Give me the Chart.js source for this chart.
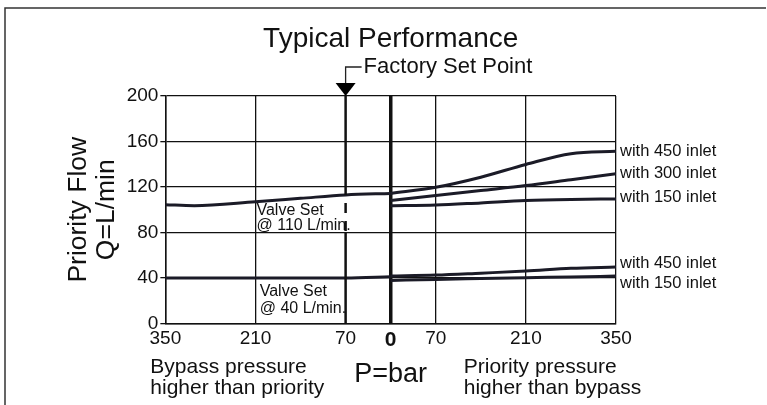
<!DOCTYPE html>
<html>
<head>
<meta charset="utf-8">
<script src="https://cdn.jsdelivr.net/npm/chart.js@4.4.1/dist/chart.umd.min.js"></script>
<style>
  html, body { margin: 0; padding: 0; background: #fff; }
  #wrap { width: 767px; height: 405px; }
</style>
</head>
<body>
<div id="wrap"><canvas id="perfChart"></canvas></div>
<script>
// pressure (bar): left side = bypass higher, right side = priority higher
const leftPressure = [-350, -305, -210, -140, -70, 0];
const rightPressure = [0, 70, 140, 210, 280, 350];
const lowLeftPressure = [-350, -210, -70, 0];

// priority flow (L/min)
const valveSet110 = [104.4, 103.5, 107, 110, 113, 114.3];
const inlet450High = [114.3, 119.7, 128.6, 139.8, 149.3, 151.3];
const inlet300High = [108, 112.4, 116.8, 121.2, 126.4, 131.6];
const inlet150High = [103.5, 104.1, 106, 108, 109, 109.5];
const valveSet40 = [40, 40, 40, 41];
const inlet450Low = [41.6, 42.5, 44.2, 46, 48.4, 49.6];
const inlet150Low = [37.8, 38.7, 39.4, 40.1, 40.9, 41.6];

// factory set point marker: solid above, dashed between, solid below
const factoryX = -70;
const factoryTop = [200, 113];
const factoryDashed = [113, 80];
const factoryBottom = [80, 0];

// ticks
const xTickValues = [-350, -210, -70, 0, 70, 210, 350];
const xTickLabels = ['350', '210', '70', '0', '70', '210', '350'];
const yTickValues = [0, 40, 80, 120, 160, 200];

// curve labels on the right
const inletLabels = ['with 450 inlet', 'with 300 inlet', 'with 150 inlet', 'with 450 inlet', 'with 150 inlet'];
const inletLabelY = [151, 132, 110.6, 52.5, 35];

const FONT = 'Liberation Sans';
const INK = '#1b1b27';

function pts(xs, ys) {
  return xs.map((x, i) => ({ x: x, y: ys[i] }));
}

function curve(xs, ys) {
  return {
    data: pts(xs, ys),
    borderColor: INK,
    borderWidth: 3,
    pointRadius: 0,
    cubicInterpolationMode: 'monotone',
    fill: false
  };
}

function factoryPart(ys, dash) {
  return {
    data: ys.map(y => ({ x: factoryX, y: y })),
    borderColor: '#111',
    borderWidth: 2.5,
    pointRadius: 0,
    borderDash: dash,
    borderDashOffset: dash.length ? 10 : 0
  };
}

// texts and marker drawn around the plot
const decorPlugin = {
  id: 'decor',
  beforeDraw(chart) {
    const c = chart.ctx;
    c.save();
    c.fillStyle = '#fff';
    c.fillRect(0, 0, chart.width, chart.height);
    c.strokeStyle = '#333';
    c.lineWidth = 1.5;
    c.beginPath();
    c.moveTo(5, chart.height);
    c.lineTo(5, 8);
    c.lineTo(766, 8);
    c.stroke();
    c.restore();
  },
  afterDatasetsDraw(chart) {
    const c = chart.ctx;
    const xs = chart.scales.x, ys = chart.scales.y;
    const area = chart.chartArea;
    c.save();
    c.fillStyle = '#111';
    c.textBaseline = 'middle';

    // title
    c.textAlign = 'center';
    c.font = '28px "' + FONT + '"';
    c.fillText('Typical Performance', (area.left + area.right) / 2, 39);

    // curve labels
    c.textAlign = 'left';
    c.font = '16.5px "' + FONT + '"';
    inletLabels.forEach((t, i) => {
      c.fillText(t, area.right + 4, ys.getPixelForValue(inletLabelY[i]));
    });

    // valve set notes
    c.font = '16px "' + FONT + '"';
    c.fillText('Valve Set', xs.getPixelForValue(-210) + 1, ys.getPixelForValue(99));
    c.fillText('@ 110 L/min.', xs.getPixelForValue(-210) + 1, ys.getPixelForValue(86));
    c.fillText('Valve Set', xs.getPixelForValue(-205) + 1, ys.getPixelForValue(28.3));
    c.fillText('@ 40 L/min.', xs.getPixelForValue(-205) + 1, ys.getPixelForValue(13.3));

    // factory set point arrow
    const fx = xs.getPixelForValue(factoryX);
    const top = area.top;
    c.fillStyle = '#000';
    c.beginPath();
    c.moveTo(fx - 10, top - 13);
    c.lineTo(fx + 10, top - 13);
    c.lineTo(fx, top);
    c.closePath();
    c.fill();
    c.strokeStyle = '#222';
    c.lineWidth = 1.3;
    c.beginPath();
    c.moveTo(fx, top - 13);
    c.lineTo(fx, top - 29);
    c.lineTo(fx + 16, top - 29);
    c.stroke();
    c.fillStyle = '#111';
    c.font = '22px "' + FONT + '"';
    c.fillText('Factory Set Point', fx + 18, top - 29);

    // bottom side notes
    c.font = '21px "' + FONT + '"';
    c.fillText('Bypass pressure', area.left - 15, 367);
    c.fillText('higher than priority', area.left - 15, 388);
    c.fillText('Priority pressure', xs.getPixelForValue(70) + 28, 367);
    c.fillText('higher than bypass', xs.getPixelForValue(70) + 28, 388);
    c.restore();
  }
};

new Chart(document.getElementById('perfChart'), {
  type: 'line',
  data: {
    datasets: [
      factoryPart(factoryTop, []),
      factoryPart(factoryDashed, [10, 8]),
      factoryPart(factoryBottom, []),
      curve(leftPressure, valveSet110),
      curve(rightPressure, inlet450High),
      curve(rightPressure, inlet300High),
      curve(rightPressure, inlet150High),
      curve(lowLeftPressure, valveSet40),
      curve(rightPressure, inlet450Low),
      curve(rightPressure, inlet150Low)
    ]
  },
  options: {
    responsive: true,
    maintainAspectRatio: false,
    animation: false,
    layout: { padding: { left: 61, right: 151, top: 96, bottom: 14 } },
    plugins: {
      legend: { display: false },
      tooltip: { enabled: false },
      title: { display: false }
    },
    scales: {
      x: {
        type: 'linear',
        min: -350,
        max: 350,
        afterBuildTicks: s => { s.ticks = xTickValues.map(v => ({ value: v })); },
        ticks: {
          autoSkip: false,
          maxRotation: 0,
          padding: 4,
          color: '#111',
          callback: (v, i) => xTickLabels[i],
          font: ctx => (ctx.tick && ctx.tick.value === 0)
            ? { family: FONT, size: 21, weight: 'bold' }
            : { family: FONT, size: 19 }
        },
        grid: {
          color: ctx => (ctx.tick && ctx.tick.value === factoryX) ? 'rgba(0,0,0,0)' : '#111',
          lineWidth: ctx => (ctx.tick && ctx.tick.value === factoryX) ? 0 :
            ((ctx.tick && ctx.tick.value === 0) ? 3.5 : 1.3),
          drawTicks: false
        },
        border: { color: '#111', width: 1.5 },
        title: {
          display: true,
          text: 'P=bar',
          color: '#111',
          font: { family: FONT, size: 27 },
          padding: { top: 2, bottom: 0 }
        }
      },
      y: {
        min: 0,
        max: 200,
        afterBuildTicks: s => { s.ticks = yTickValues.map(v => ({ value: v })); },
        ticks: {
          padding: 2,
          color: '#111',
          font: { family: FONT, size: 19 }
        },
        grid: { color: '#111', lineWidth: 1.3, tickLength: 5 },
        border: { color: '#111', width: 1.5 },
        title: {
          display: true,
          text: ['Priority Flow', 'Q=L/min'],
          color: '#111',
          font: { family: FONT, size: 26.5, lineHeight: 1.05 },
          padding: 4
        }
      }
    }
  },
  plugins: [decorPlugin]
});
</script>
</body>
</html>
